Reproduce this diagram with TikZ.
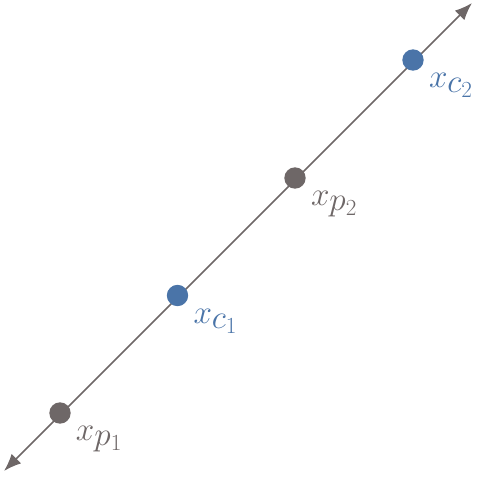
\documentclass[tikz,border=0pt]{standalone}
\usepackage{amsmath}
\usepackage{tikz}
\usetikzlibrary{positioning}
\usetikzlibrary{arrows.meta}

\DeclareMathSizes{36}{36}{26}{19}

\definecolor{ptgray}{RGB}{110,103,103}
\definecolor{ptblue}{RGB}{74,116,168}

\tikzset{
  dot/.style={circle,inner sep=0pt,minimum size=16pt},
  lbl/.style={inner sep=0pt,font=\fontsize{36}{42}\selectfont},
}

\begin{document}
\begin{tikzpicture}[x=0.75pt,y=0.75pt,yscale=-1,xscale=1]
\useasboundingbox (0,0) rectangle (496,478);

%Line ends
\coordinate (lo) at (4,471);
\coordinate (hi) at (472,3);
%Shape: Line with arrows
\draw [color=ptgray,line width=1.1pt,{Latex[length=13pt,width=10pt]}-{Latex[length=13pt,width=10pt]}] (lo) -- (hi) ;

%Shape: Circle
\node [dot,fill=ptgray] (p1) at (60,413) {};
%Shape: Circle
\node [dot,fill=ptblue] (c1) at (177.5,295.5) {};
%Shape: Circle
\node [dot,fill=ptgray] (p2) at (295,178) {};
%Shape: Circle
\node [dot,fill=ptblue] (c2) at (413,60) {};

% Text Node
\node [lbl,text=ptgray,below right=4pt and 6pt of p1] (lp1) {$x_{p_1}$};
% Text Node
\node [lbl,text=ptblue,below right=4pt and 6pt of c1] (lc1) {$x_{c_1}$};
% Text Node
\node [lbl,text=ptgray,below right=4pt and 6pt of p2] (lp2) {$x_{p_2}$};
% Text Node
\node [lbl,text=ptblue,below right=4pt and 6pt of c2] (lc2) {$x_{c_2}$};

\end{tikzpicture}
\end{document}
